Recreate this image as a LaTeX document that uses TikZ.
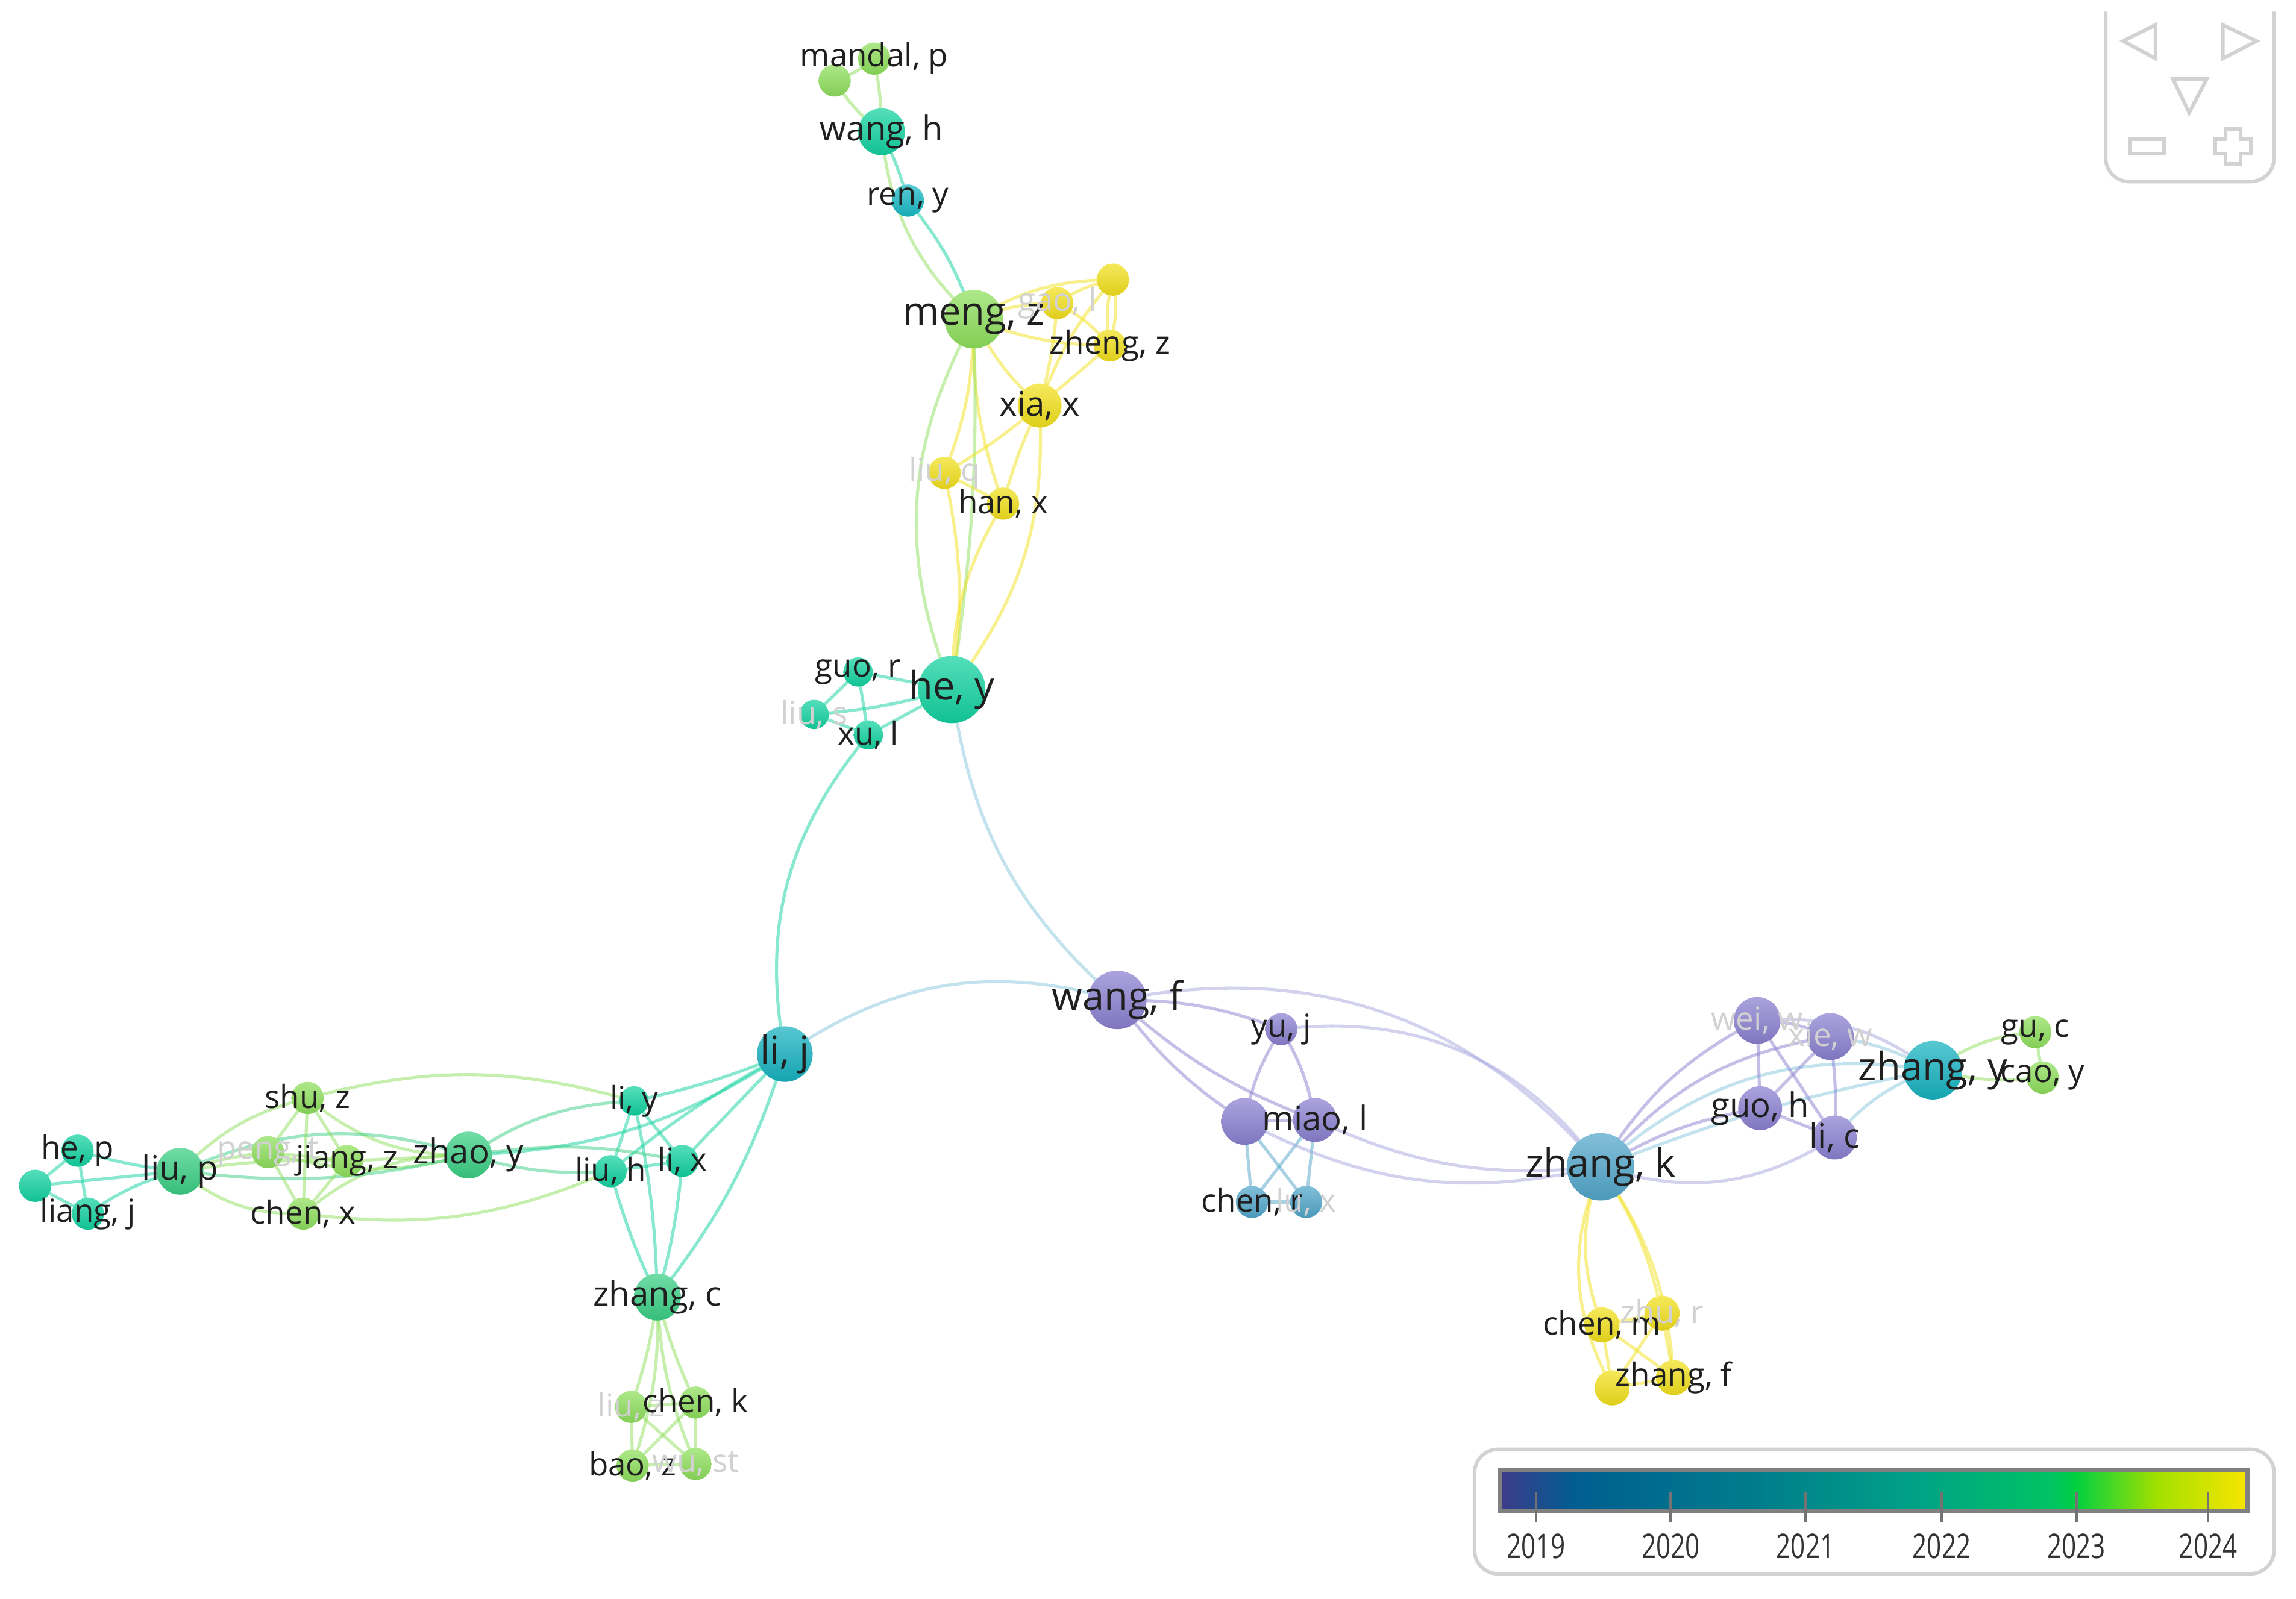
\documentclass[tikz,border=0pt]{standalone}
\usepackage{fontspec}
\setmainfont{Open Sans}
\usetikzlibrary{positioning,calc}

\definecolor{ltg}{HTML}{8EDF5C}
\definecolor{tealg}{HTML}{12D2A0}
\definecolor{midg}{HTML}{3ACE84}
\definecolor{tealb}{HTML}{16B2C0}
\definecolor{cyanb}{HTML}{18B8C4}
\definecolor{ylw}{HTML}{F2E01C}
\definecolor{purp}{HTML}{8A80D0}
\definecolor{stlb}{HTML}{52A6CA}
\definecolor{lbl}{HTML}{86C6DC}
\definecolor{lpurp}{HTML}{A6A6E0}
\definecolor{navgray}{HTML}{D2D2D2}
% colour bar stops
\definecolor{v0}{HTML}{3F3A8A}
\definecolor{v1}{HTML}{005E90}
\definecolor{v2}{HTML}{007C8C}
\definecolor{v3}{HTML}{00A286}
\definecolor{v4}{HTML}{00C462}
\definecolor{v5}{HTML}{00D040}
\definecolor{v6}{HTML}{A4E000}
\definecolor{v7}{HTML}{F8E600}
\pgfdeclarehorizontalshading{yearbar}{100bp}{color(0bp)=(v0); color(25bp)=(v0);
  color(30bp)=(v1); color(42bp)=(v2); color(53bp)=(v3); color(62bp)=(v4);
  color(63.5bp)=(v5); color(69bp)=(v6); color(75bp)=(v7); color(100bp)=(v7)}

\pgfdeclarelayer{bg}
\pgfsetlayers{bg,main}

\tikzset{
  dot/.style={circle, inner sep=0pt, draw=none,
    top color=#1!72!white, bottom color=#1!92!black},
  edge/.style={draw=#1, line width=0.6pt, opacity=0.5},
  small/.style={font=\fontsize{6.2}{7}\selectfont, text=black!88, inner sep=0pt},
  medium/.style={font=\fontsize{6.6}{7.5}\selectfont, text=black!88, inner sep=0pt},
  big/.style={font=\fontsize{7.6}{8.5}\selectfont, text=black!88, inner sep=0pt},
  faded/.style={font=\fontsize{6.2}{7}\selectfont, text=black!18, inner sep=0pt},
  nav/.style={draw=navgray, line width=0.7pt},
  yearlbl/.style={font=\fontsize{6.6}{7}\selectfont, text=black!80, xscale=0.75, transform shape}
}

\begin{document}
\begin{tikzpicture}[x=0.1mm, y=-0.1mm]
  \useasboundingbox (0,0) rectangle (1568,1092);

  % authors: name / x / y / colour / diameter (mm)
  \foreach \n/\x/\y/\c/\d in {
      mandal/597/40/ltg/2.2, mandb/570/55/ltg/2.2, wangh/602/90/tealg/3.2,
      reny/620/137/cyanb/2.2, mengz/665/218/ltg/4.0, gaol/722/207/ylw/2.2,
      ylwb/760/191/ylw/2.2, zhengz/758/236/ylw/2.2, xiax/710/277/ylw/3.0,
      liuq/645/323/ylw/2.2, hanx/685/344/ylw/2.2,
      hey/650/471/tealg/4.6, guor/586/459/tealg/2.0, lius/556/488/tealg/2.0,
      xul/593/502/tealg/2.0,
      lij/536/720/tealb/3.8, wangf/763/683/purp/4.0, yuj/875/703/purp/2.2,
      purpc/850/766/purp/3.2, miaol/898/765/purp/3.0, chenr/855/821/stlb/2.2,
      lux/892/821/stlb/2.2,
      zhangk/1093/797/stlb/4.6, purpd/1200/697/purp/3.2, purpe/1250/708/purp/3.2,
      zhangy/1320/731/tealb/4.0, guc/1390/705/ltg/2.2, caoy/1395/736/ltg/2.2,
      guoh/1202/757/purp/3.0, lic/1253/777/purp/3.0,
      chenm/1094/905/ylw/2.4, zhur/1135/897/ylw/2.4, zhangf/1143/941/ylw/2.4,
      ylwc/1101/948/ylw/2.4,
      zhangc/449/886/midg/3.2, liuz/431/961/ltg/2.2, chenk/475/958/ltg/2.2,
      baoz/432/1001/ltg/2.2, wust/475/1000/ltg/2.2,
      liy/433/752/tealg/2.0, liuh/417/800/tealg/2.2, lix/466/793/tealg/2.2,
      zhaoy/320/789/midg/3.2, shuz/210/750/ltg/2.2, pengt/183/787/ltg/2.2,
      jiangz/237/793/ltg/2.2, chenx/207/829/ltg/2.2, liup/123/800/midg/3.2,
      hep/53/786/tealg/2.2, tealc/24/810/tealg/2.2, liangj/60/829/tealg/2.2}
    \node[dot=\c, minimum size=\d mm] (\n) at (\x,\y) {};

  \begin{pgfonlayer}{bg}
  % links: from / to / colour / bend
  \foreach \a/\b/\c/\k in {
      mandal/mandb/ltg/10, mandal/wangh/ltg/5, mandb/wangh/ltg/-10,
      wangh/reny/tealg/5, wangh/mengz/ltg/-20, reny/mengz/tealg/10,
      mengz/gaol/ylw/10, mengz/ylwb/ylw/15, mengz/zhengz/ylw/-10,
      mengz/xiax/ylw/-10, mengz/liuq/ylw/10, mengz/hanx/ylw/-10,
      mengz/hey/ltg/-25, mengz/hey/ltg/5,
      gaol/ylwb/ylw/10, gaol/zhengz/ylw/10, gaol/xiax/ylw/5,
      ylwb/zhengz/ylw/12, ylwb/zhengz/ylw/-12, ylwb/xiax/ylw/-10,
      zhengz/xiax/ylw/0, xiax/liuq/ylw/5, xiax/hanx/ylw/-5, xiax/hey/ylw/20,
      liuq/hanx/ylw/0, liuq/hey/ylw/10, hanx/hey/ylw/-15,
      hey/guor/tealg/0, hey/lius/tealg/5, hey/xul/tealg/0,
      guor/lius/tealg/0, guor/xul/tealg/0, lius/xul/tealg/0,
      lij/xul/tealg/25, hey/wangf/lbl/-20,
      lij/wangf/lbl/25, wangf/zhangk/lpurp/30,
      wangf/yuj/purp/10, wangf/purpc/purp/-10, wangf/miaol/purp/-10,
      yuj/purpc/purp/-10, yuj/miaol/purp/10, yuj/zhangk/lpurp/30,
      purpc/miaol/purp/0, purpc/chenr/stlb/0, purpc/lux/stlb/0,
      miaol/chenr/stlb/0, miaol/lux/stlb/0, chenr/lux/stlb/0,
      purpc/zhangk/lpurp/-20, miaol/zhangk/lpurp/-15,
      zhangk/purpd/purp/15, zhangk/purpe/purp/20, zhangk/zhangy/lbl/25,
      zhangk/zhangy/lbl/5, zhangk/guoh/purp/10, zhangk/lic/lpurp/-25,
      purpd/purpe/purp/10, purpd/guoh/purp/0, purpd/lic/purp/0,
      purpe/guoh/purp/0, purpe/lic/purp/5, guoh/lic/purp/0,
      purpd/zhangy/lpurp/20, purpe/zhangy/lbl/10, lic/zhangy/lbl/15,
      zhangy/guc/ltg/15, zhangy/caoy/ltg/-10, guc/caoy/ltg/0,
      zhangk/chenm/ylw/-20, zhangk/zhur/ylw/10, zhangk/zhangf/ylw/15,
      zhangk/ylwc/ylw/-25,
      chenm/zhur/ylw/0, chenm/zhangf/ylw/0, chenm/ylwc/ylw/0,
      zhur/zhangf/ylw/0, zhur/ylwc/ylw/0, zhangf/ylwc/ylw/0,
      lij/liy/tealg/5, lij/liuh/tealg/-5, lij/lix/tealg/0,
      lij/zhaoy/tealg/15, lij/zhangc/tealg/10,
      liy/liuh/tealg/0, liy/lix/tealg/0, liuh/lix/tealg/0,
      liy/zhangc/tealg/5, liuh/zhangc/tealg/-5, lix/zhangc/tealg/5,
      zhaoy/liy/midg/15, zhaoy/liuh/midg/-10, zhaoy/lix/midg/10,
      zhangc/liuz/ltg/5, zhangc/chenk/ltg/-5, zhangc/baoz/ltg/10,
      zhangc/wust/ltg/-10,
      liuz/chenk/ltg/0, liuz/baoz/ltg/0, liuz/wust/ltg/0,
      chenk/baoz/ltg/0, chenk/wust/ltg/0, baoz/wust/ltg/0,
      zhaoy/shuz/ltg/20, zhaoy/pengt/ltg/15, zhaoy/jiangz/ltg/0,
      zhaoy/chenx/ltg/-20, liup/zhaoy/midg/20, liup/zhaoy/midg/-10,
      liup/shuz/ltg/15, liup/pengt/ltg/5, liup/jiangz/ltg/5,
      liup/chenx/ltg/-20, shuz/liy/ltg/15, chenx/liuh/ltg/-15,
      shuz/pengt/ltg/0, shuz/jiangz/ltg/0, shuz/chenx/ltg/0,
      pengt/jiangz/ltg/0, pengt/chenx/ltg/0, jiangz/chenx/ltg/0,
      liup/hep/tealg/5, liup/liangj/tealg/-10, liup/tealc/tealg/0,
      hep/tealc/tealg/0, hep/liangj/tealg/0, tealc/liangj/tealg/0}
    \draw[edge=\c] (\a.center) to[bend left=\k] (\b.center);
  \end{pgfonlayer}

  % labels
  \foreach \n/\t/\s in {
      mandal/{mandal, p}/small, wangh/{wang, h}/medium, reny/{ren, y}/small,
      mengz/{meng, z}/big, gaol/{gao, l}/faded, zhengz/{zheng, z}/small,
      xiax/{xia, x}/medium, liuq/{liu, q}/faded, hanx/{han, x}/small,
      hey/{he, y}/big, guor/{guo, r}/small, lius/{liu, s}/faded, xul/{xu, l}/small,
      lij/{li, j}/big, wangf/{wang, f}/big, yuj/{yu, j}/small,
      miaol/{miao, l}/medium, chenr/{chen, r}/small, lux/{lu, x}/faded,
      zhangk/{zhang, k}/big, purpd/{wei, w}/faded, purpe/{xie, w}/faded,
      zhangy/{zhang, y}/big, guc/{gu, c}/small, caoy/{cao, y}/small,
      guoh/{guo, h}/medium, lic/{li, c}/medium,
      chenm/{chen, m}/small, zhur/{zhu, r}/faded, zhangf/{zhang, f}/small,
      zhangc/{zhang, c}/medium, liuz/{liu, z}/faded, chenk/{chen, k}/small,
      baoz/{bao, z}/small, wust/{wu, st}/faded,
      liy/{li, y}/small, liuh/{liu, h}/small, lix/{li, x}/small,
      zhaoy/{zhao, y}/medium, shuz/{shu, z}/small, pengt/{peng, t}/faded,
      jiangz/{jiang, z}/small, chenx/{chen, x}/small, liup/{liu, p}/medium,
      hep/{he, p}/small, liangj/{liang, j}/small}
    \node[\s] at (\n) {\t};

  % colour scale
  \draw[navgray, line width=0.7pt, rounded corners=1.6mm] (1007,990) rectangle (1553,1075);
  \shade[shading=yearbar] (1024,1004) rectangle (1535,1032);
  \draw[black!50, line width=0.8pt] (1024,1004) rectangle (1535,1032);
  \foreach \yr/\x in {2019/1049, 2020/1141, 2021/1233, 2022/1326, 2023/1418, 2024/1508} {
    \draw[black!55, line width=0.5pt] (\x,1019) -- (\x,1040);
    \node[yearlbl] (y\yr) at (\x,1056) {\yr};
  }

  % navigation
  \draw[nav, rounded corners=1.6mm] (1438,8) -- (1438,124) -- (1553,124) -- (1553,8);
  \draw[nav] (1450,28) -- (1472,17) -- (1472,40) -- cycle;
  \draw[nav] (1518,17) -- (1541,28) -- (1518,40) -- cycle;
  \draw[nav] (1484,54) -- (1507,54) -- (1495,77) -- cycle;
  \draw[nav] (1455,95) rectangle (1478,105);
  \draw[nav] (1520,88) -- (1530,88) -- (1530,95) -- (1537,95) -- (1537,105) -- (1530,105)
    -- (1530,112) -- (1520,112) -- (1520,105) -- (1513,105) -- (1513,95) -- (1520,95) -- cycle;
\end{tikzpicture}
\end{document}
